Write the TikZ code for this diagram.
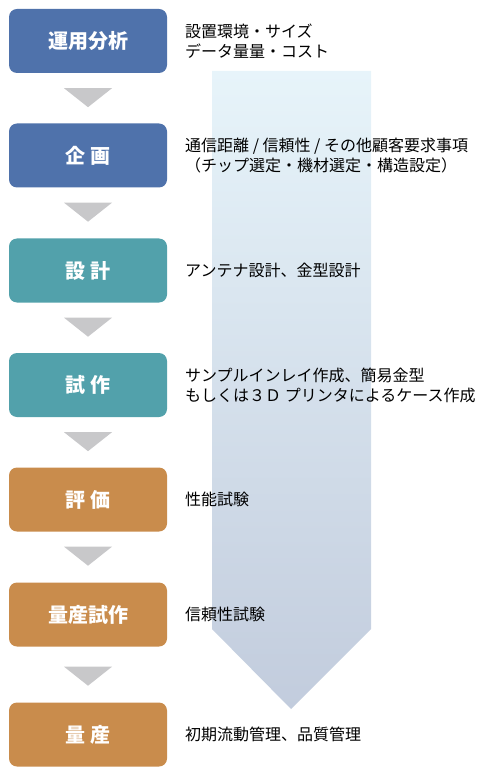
\documentclass[tikz,border=0pt]{standalone}
\usepackage{fontspec}
\setmainfont{Noto Sans CJK JP}
\usetikzlibrary{calc}
\definecolor{cblue}{HTML}{4F72AB}
\definecolor{cteal}{HTML}{52A1AB}
\definecolor{corange}{HTML}{C98C4C}
\definecolor{cgrey}{HTML}{C8C8CA}
\definecolor{agtop}{HTML}{E7F4FA}
\definecolor{agbot}{HTML}{C2CCDD}
\begin{document}
\begin{tikzpicture}[x=1pt,y=-1pt,
  stage/.style={rounded corners=8pt, minimum width=158pt, minimum height=64pt, inner sep=0pt,
    text=white, font=\fontsize{20}{22}\selectfont\bfseries},
  desc/.style={anchor=west, inner sep=0pt, align=left, font=\fontsize{16}{20}\selectfont},
  tri/.style={fill=cgrey}]
\useasboundingbox (0,0) rectangle (483,775);
% big arrow
\shade[top color=agtop, bottom color=agbot] (212,71) -- (371,71) -- (371,629) -- (291,709) -- (212,629) -- cycle;
% stages
\node[stage, fill=cblue] (b1) at (88,41) {運用分析};
\node[stage, fill=cblue] (b2) at (88,155.5) {企 画};
\node[stage, fill=cteal] (b3) at (88,270.5) {設 計};
\node[stage, fill=cteal] (b4) at (88,385) {試 作};
\node[stage, fill=corange] (b5) at (88,499.5) {評 価};
\node[stage, fill=corange] (b6) at (88,614.5) {量産試作};
\node[stage, fill=corange] (b7) at (88,734.5) {量 産};
% triangles
\foreach \a/\d in {b1/15, b2/15, b3/15, b4/15, b5/15, b6/20} {
  \fill[tri] ($(\a.south)+(-24,\d)$) -- ($(\a.south)+(24,\d)$) -- ($(\a.south)+(0,\d+19)$) -- cycle;
}
% descriptions
\node[desc] (d1) at (185,41) {設置環境・サイズ\\データ量量・コスト};
\node[desc] (d2) at (185,155.5) {通信距離 / 信頼性 / その他顧客要求事項\\（チップ選定・機材選定・構造設定）};
\node[desc] (d3) at (185,270.5) {アンテナ設計、金型設計};
\node[desc] (d4) at (185,385) {サンプルインレイ作成、簡易金型\\もしくは３Ｄ プリンタによるケース作成};
\node[desc] (d5) at (185,499.5) {性能試験};
\node[desc] (d6) at (185,614.5) {信頼性試験};
\node[desc] (d7) at (185,734.5) {初期流動管理、品質管理};
\end{tikzpicture}
\end{document}
